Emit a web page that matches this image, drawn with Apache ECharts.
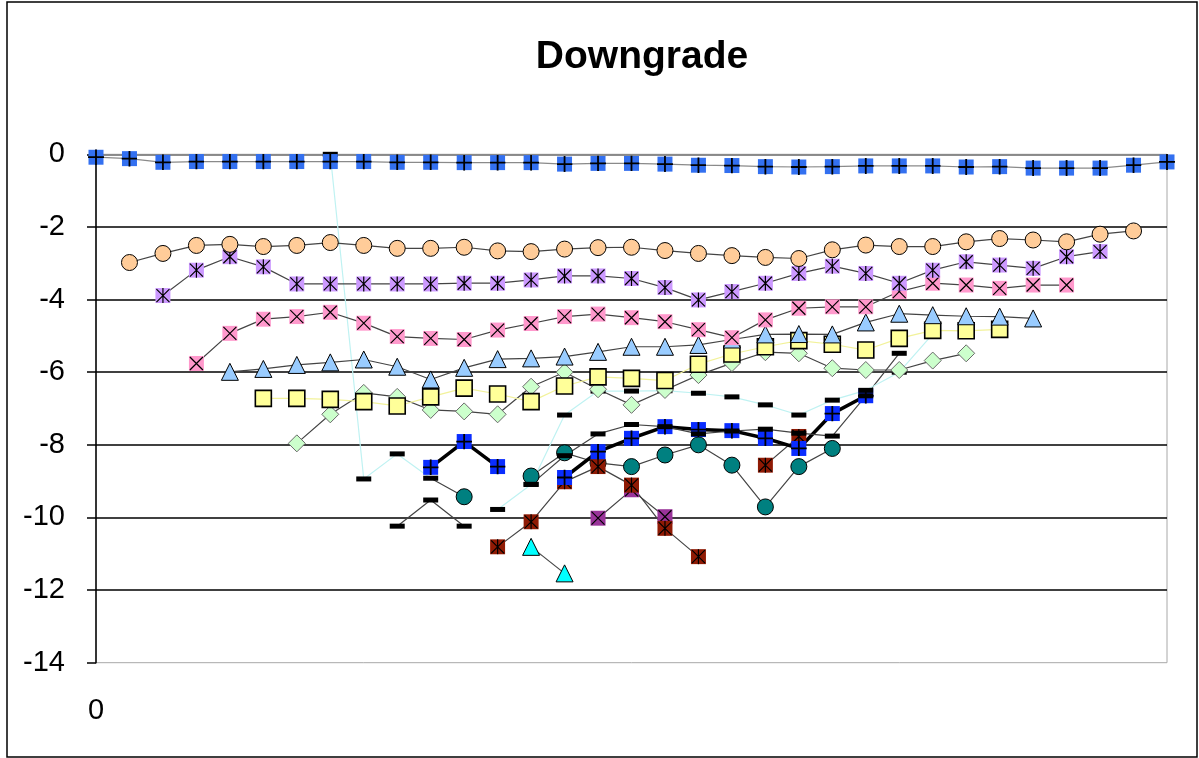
<!DOCTYPE html>
<html>
<head>
<meta charset="utf-8">
<title>Downgrade</title>
<script src="https://cdn.jsdelivr.net/npm/echarts@6/dist/echarts.min.js"></script>
<style>
  html, body { margin: 0; padding: 0; background: #fff; }
  #chart { width: 1199px; height: 758px; }
</style>
</head>
<body>
<div id="chart"></div>
<script>
// Periods along the horizontal axis (only the first one is labelled)
const categories = ['0','1','2','3','4','5','6','7','8','9','10','11','12','13','14','15','16',
  '17','18','19','20','21','22','23','24','25','26','27','28','29','30','31','32'];
const yTicks = { min: -14, max: 0, step: 2 };

// Each cohort starts at a later period; values are listed from its first period on
const cohortA = { start: 0, values: [-0.08,-0.12,-0.22,-0.2,-0.2,-0.2,-0.2,-0.2,-0.2,-0.22,-0.22,-0.23,-0.23,-0.23,-0.27,-0.25,-0.25,-0.27,-0.3,-0.31,-0.34,-0.35,-0.34,-0.32,-0.32,-0.32,-0.35,-0.34,-0.38,-0.38,-0.38,-0.3,-0.21] };
const cohortB = { start: 1, values: [-2.98,-2.73,-2.51,-2.48,-2.54,-2.51,-2.43,-2.51,-2.59,-2.59,-2.56,-2.66,-2.68,-2.61,-2.57,-2.56,-2.65,-2.73,-2.79,-2.84,-2.87,-2.63,-2.5,-2.54,-2.54,-2.41,-2.32,-2.36,-2.41,-2.2,-2.11] };
const cohortC = { start: 2, values: [-3.89,-3.19,-2.82,-3.1,-3.57,-3.57,-3.57,-3.57,-3.57,-3.55,-3.55,-3.46,-3.35,-3.35,-3.42,-3.67,-4.01,-3.78,-3.55,-3.28,-3.08,-3.28,-3.55,-3.19,-2.96,-3.05,-3.14,-2.82,-2.68] };
const cohortD = { start: 3, values: [-5.76,-4.93,-4.54,-4.47,-4.35,-4.65,-5.02,-5.07,-5.1,-4.84,-4.66,-4.47,-4.4,-4.5,-4.61,-4.83,-5.05,-4.56,-4.24,-4.2,-4.2,-3.78,-3.55,-3.6,-3.69,-3.6,-3.6] };
const cohortE = { start: 4, values: [-5.99,-5.91,-5.8,-5.73,-5.65,-5.85,-6.2,-5.88,-5.64,-5.62,-5.57,-5.44,-5.3,-5.3,-5.25,-5.1,-4.96,-4.95,-4.96,-4.63,-4.39,-4.43,-4.46,-4.47,-4.52] };
const cohortF = { start: 5, values: [-6.72,-6.72,-6.75,-6.81,-6.93,-6.68,-6.44,-6.6,-6.81,-6.38,-6.13,-6.17,-6.23,-5.78,-5.5,-5.3,-5.13,-5.23,-5.39,-5.07,-4.85,-4.86,-4.82] };
const cohortG = { start: 6, values: [-7.96,-7.16,-6.57,-6.68,-7.04,-7.08,-7.16,-6.4,-6.0,-6.47,-6.9,-6.49,-6.08,-5.75,-5.45,-5.48,-5.89,-5.94,-5.94,-5.68,-5.48] };
const cohortH = { start: 7, values: [0,-8.94,-8.25,-8.92,null,-9.78,-9.09,-7.18,-6.52,-6.52,-6.51,-6.58,-6.68,-6.9,-7.18,-6.77,-6.5,-6.0,-4.95] };
const cohortI = { start: 9, values: [-10.24,-9.52,-10.24,null,-9.09,-8.3,-7.7,-7.44,-7.5,-7.7,-7.62,-7.57,-7.68,-7.76,-6.65,-5.48] };
const cohortJ = { start: 10, values: [-8.62,-7.91,-8.6,null,-8.9,-8.19,-7.82,-7.5,-7.58,-7.61,-7.82,-8.1,-7.14,-6.65] };
const cohortK = { start: 10, values: [-8.92,-9.43,null,-8.86,-8.22,-8.5,-8.6,-8.28,-8.0,-8.56,-9.71,-8.6,-8.1] };
const cohortL = { start: 12, values: [-10.81,-10.12,-9.02,-8.6,-9.11,-10.3,-11.08,null,-8.56,-7.77] };
const cohortM = { start: 13, values: [-10.81,-11.54] };
const cohortN = { start: 15, values: [-10.02,-9.24,-9.98] };

// Pad a cohort out to the full period range
function padded(c) {
  const out = categories.map(() => null);
  c.values.forEach((v, i) => { out[c.start + i] = v; });
  return out;
}

// Two-colour markers (filled square with a black glyph) as small SVG images
function svgSymbol(inner) {
  const svg = '<svg xmlns="http://www.w3.org/2000/svg" width="16" height="16" viewBox="0 0 16 16">' + inner + '</svg>';
  return 'image://data:image/svg+xml;charset=utf-8,' + encodeURIComponent(svg);
}
const sq = fill => '<rect x="0.5" y="0.5" width="15" height="15" fill="' + fill + '"/>';
const plusSquare = fill => svgSymbol(sq(fill) + '<path d="M8 0V16M0 8H16" stroke="#000" stroke-width="1.8"/>');
const starSquare = fill => svgSymbol(sq(fill) + '<path d="M1.5 1.5L14.5 14.5M14.5 1.5L1.5 14.5M8 0.5V15.5" stroke="#000" stroke-width="1.2"/>');
const crossSquare = fill => svgSymbol(sq(fill) + '<path d="M1.5 1.5L14.5 14.5M14.5 1.5L1.5 14.5" stroke="#000" stroke-width="1.2"/>');

const GREY = '#444444';

function lineSeries(c, opts) {
  let data = padded(c);
  if (opts.hideFirst) {
    data = data.map((v, i) => (i === c.start ? { value: v, symbol: 'none' } : v));
  }
  return {
    type: 'line',
    data: data,
    symbol: opts.symbol,
    symbolSize: opts.size || 16,
    showSymbol: true,
    showAllSymbol: true,
    connectNulls: false,
    animation: false,
    silent: true,
    lineStyle: { color: opts.lineColor || GREY, width: opts.lineWidth || 1.2 },
    itemStyle: Object.assign({ color: opts.fill || '#000', borderColor: '#000', borderWidth: 1, opacity: 1 }, opts.item || {})
  };
}

const series = [
  lineSeries(cohortK, { symbol: 'circle', fill: '#008080', size: 16, hideFirst: true }),
  lineSeries(cohortN, { symbol: crossSquare('#993399') }),
  lineSeries(cohortL, { symbol: starSquare('#8f1a04') }),
  lineSeries(cohortM, { symbol: 'triangle', fill: '#00ffff', size: 17 }),
  lineSeries(cohortJ, { symbol: plusSquare('#0a2dff'), lineColor: '#000', lineWidth: 3.5 }),
  lineSeries(cohortI, { symbol: 'rect', size: [15, 5], fill: '#000', item: { borderWidth: 0 } }),
  lineSeries(cohortH, { symbol: 'rect', size: [15, 5], fill: '#000', lineColor: '#bff2f2', item: { borderWidth: 0 } }),
  lineSeries(cohortG, { symbol: 'diamond', fill: '#ccffcc', size: 17, item: { borderColor: '#6a6a6a' } }),
  lineSeries(cohortF, { symbol: 'rect', fill: '#ffff99', size: 16, lineColor: '#f2f29a', item: { borderWidth: 1.6 } }),
  lineSeries(cohortE, { symbol: 'triangle', fill: '#99ccff', size: 17 }),
  lineSeries(cohortD, { symbol: crossSquare('#ff99cc') }),
  lineSeries(cohortC, { symbol: starSquare('#cc99ff') }),
  lineSeries(cohortB, { symbol: 'circle', fill: '#ffcc99', size: 16 }),
  lineSeries(cohortA, { symbol: plusSquare('#3370f0'), lineColor: '#8a8a8a' })
];

const chart = echarts.init(document.getElementById('chart'), null, { renderer: 'canvas' });
chart.setOption({
  backgroundColor: '#ffffff',
  animation: false,
  title: {
    text: 'Downgrade',
    left: 637,
    top: 33,
    textAlign: 'center',
    textStyle: { fontFamily: 'Liberation Sans, Arial, sans-serif', fontWeight: 'bold', fontSize: 39, color: '#000' }
  },
  graphic: [{
    type: 'rect',
    shape: { x: 7, y: 2, width: 1190, height: 755 },
    style: { fill: 'none', stroke: '#000', lineWidth: 1.5 },
    silent: true,
    z: 100
  }],
  grid: {
    left: 96, right: 32, top: 154.3, bottom: 95.3,
    show: true, borderColor: '#a8a8a8', borderWidth: 1, backgroundColor: '#fff'
  },
  xAxis: {
    type: 'category',
    data: categories,
    boundaryGap: false,
    axisLine: { lineStyle: { color: '#a8a8a8', width: 1.5 } },
    axisTick: { show: false },
    axisLabel: {
      interval: 0,
      formatter: (v, i) => (i === 0 ? v : ''),
      margin: 34,
      fontFamily: 'Liberation Sans, Arial, sans-serif',
      fontSize: 29,
      color: '#000'
    },
    splitLine: { show: false }
  },
  yAxis: {
    type: 'value',
    min: yTicks.min,
    max: yTicks.max,
    interval: yTicks.step,
    axisLine: { show: true, onZero: false, lineStyle: { color: '#000', width: 1.5 } },
    axisTick: { show: true, length: 9, lineStyle: { color: '#000', width: 1.5 } },
    axisLabel: {
      margin: 31,
      fontFamily: 'Liberation Sans, Arial, sans-serif',
      fontSize: 29,
      color: '#000'
    },
    splitLine: { show: true, showMinLine: false, lineStyle: { color: '#000', width: 1.6 } }
  },
  series: series
});
</script>
</body>
</html>
